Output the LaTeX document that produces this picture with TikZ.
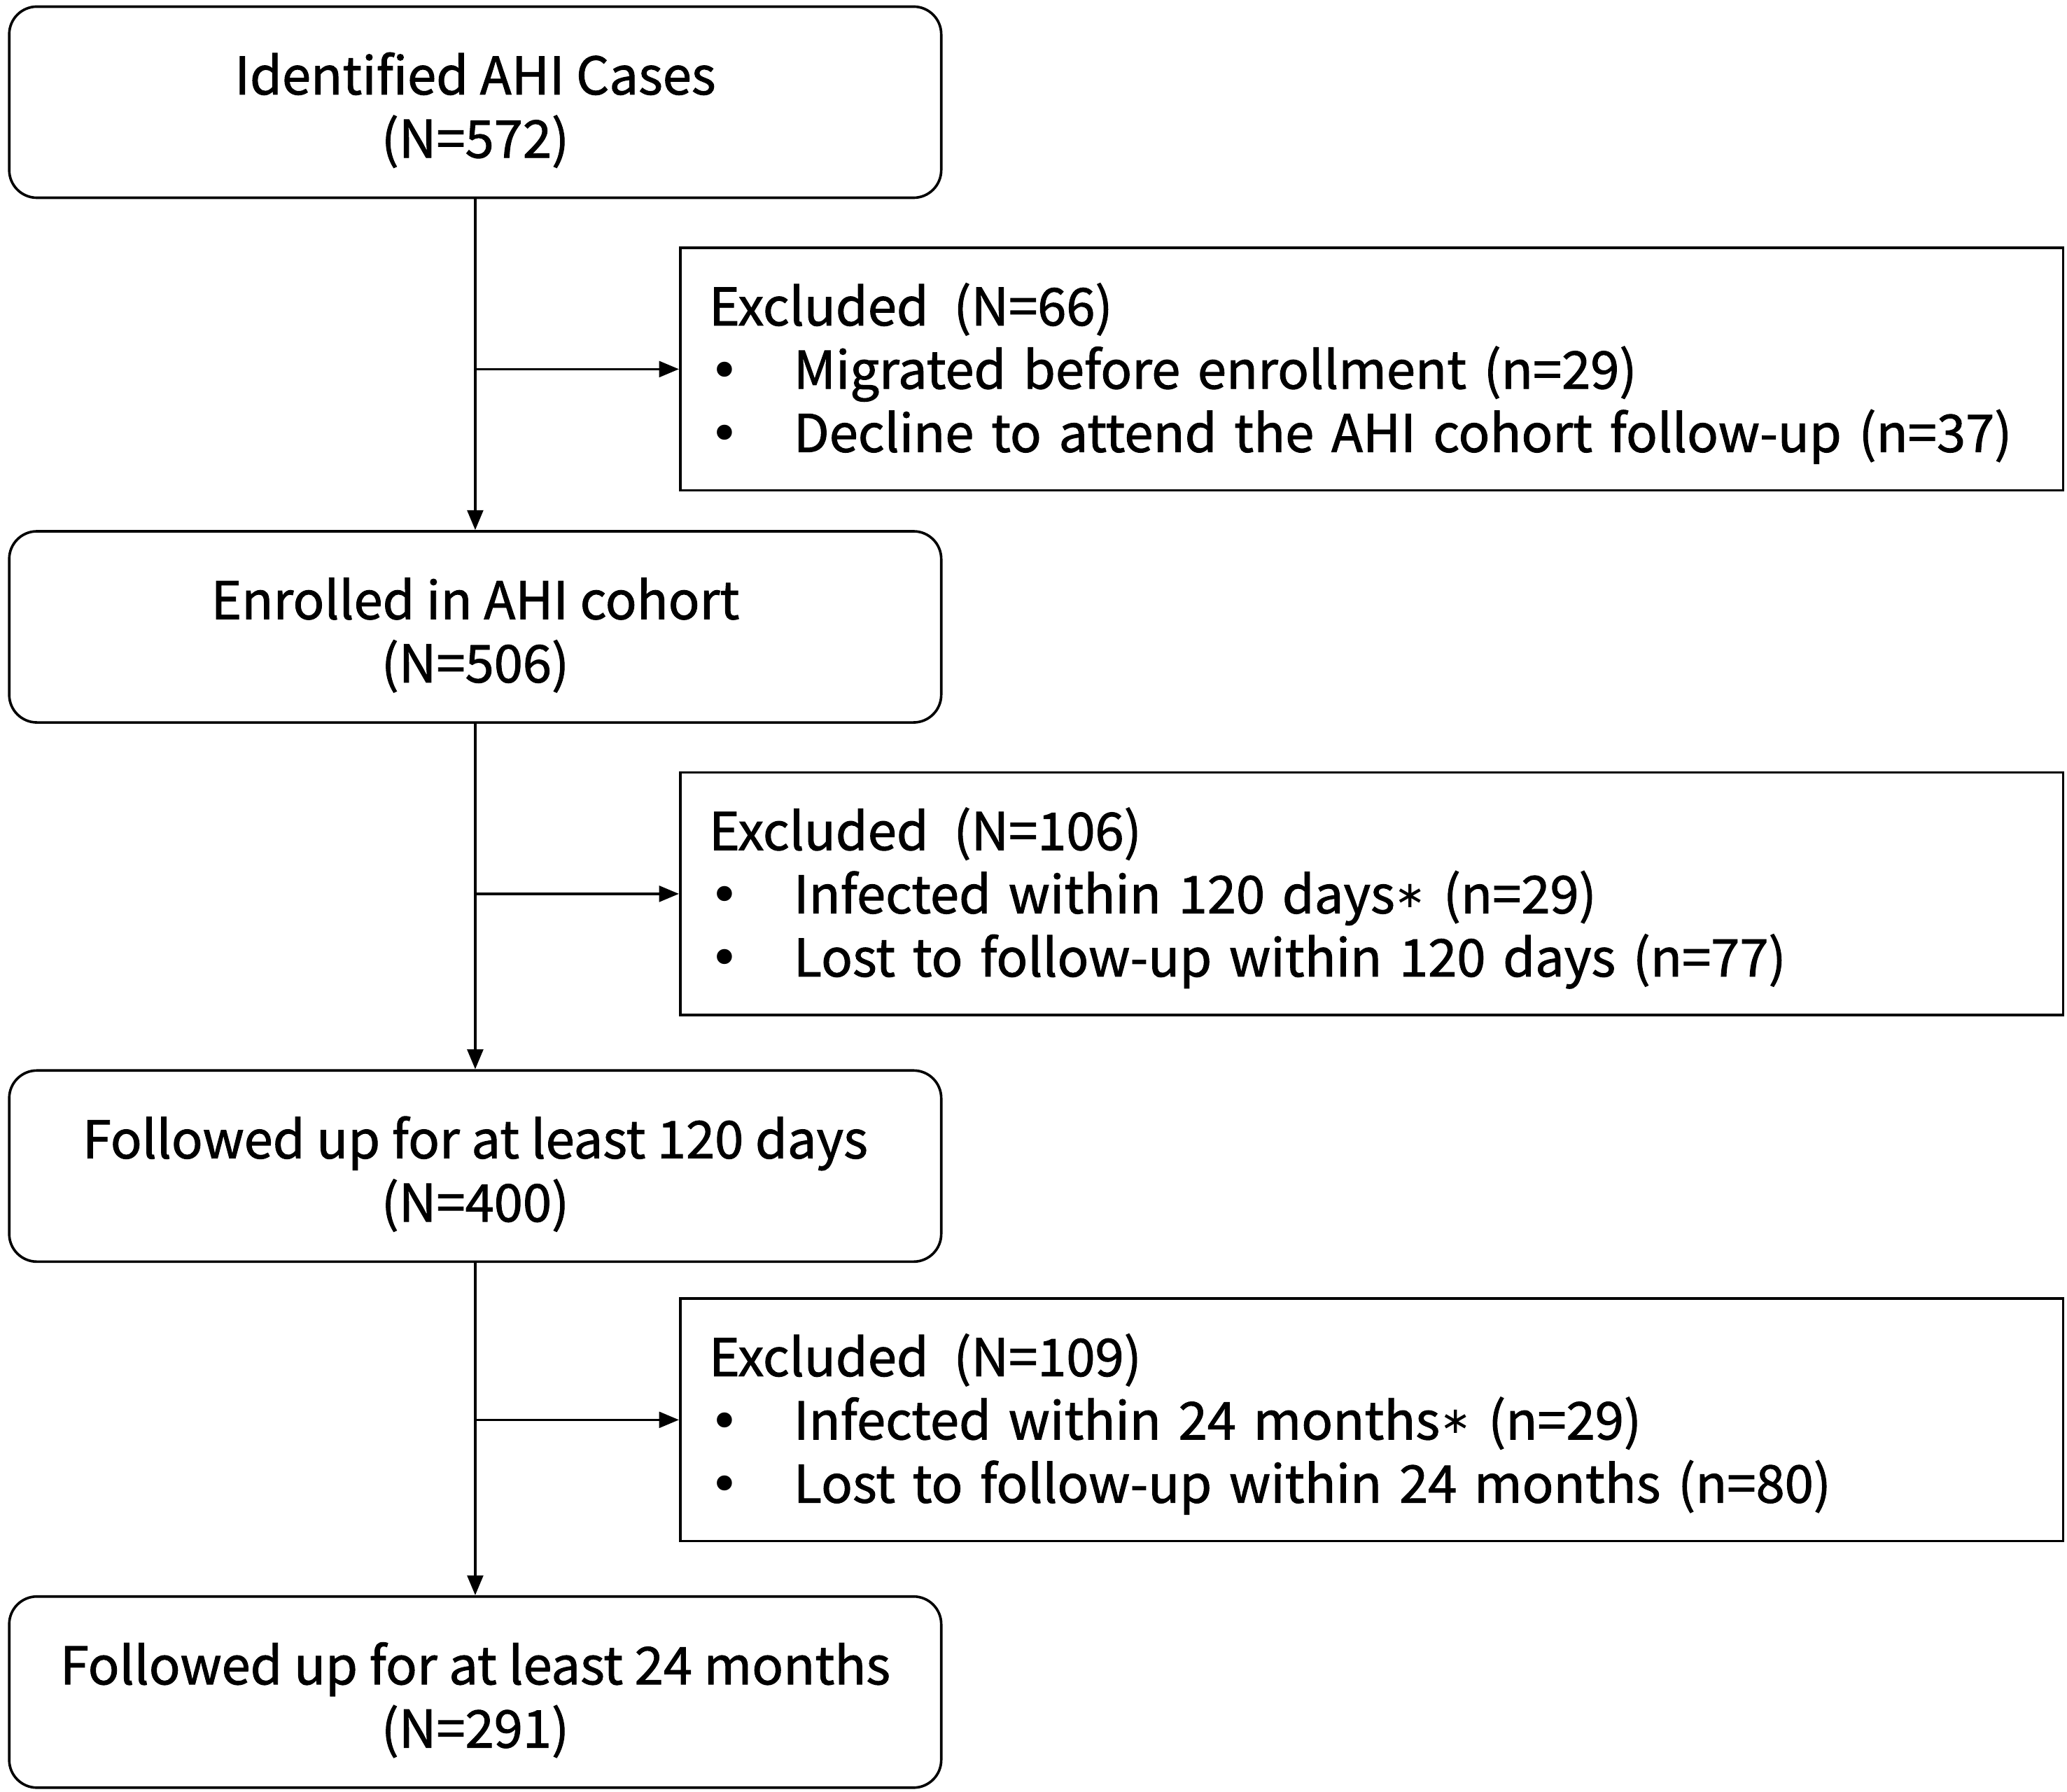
\documentclass[tikz,border=0pt]{standalone}
\usepackage{fontspec}
\setmainfont{Noto Sans CJK SC}[FakeBold=1.3]
\newfontfamily\dotfont{DejaVu Sans}
\usepackage{tikz}
\usetikzlibrary{arrows.meta,positioning}

\newcommand{\bitem}[1]{\makebox[1.28cm][l]{{\dotfont •}}#1}
\newcommand{\astx}{\raisebox{2.5pt}{\dotfont\fontsize{16}{16}\selectfont ∗}}
\newcommand{\excl}[1]{Excluded\hspace{0.38cm}(N=#1)}
\newcommand{\stage}[2]{\rule{0pt}{25pt}#1\\(N=#2)}

\begin{document}
\begin{tikzpicture}[
  stagebox/.style={draw,line width=1.1pt,rounded corners=0.42cm,minimum width=14.14cm,minimum height=2.9cm,align=center},
  exclbox/.style={draw,line width=1.1pt,minimum height=3.68cm,text width=20.1cm,inner xsep=0.44cm,align=left,
    execute at begin node={\rule{0pt}{22pt}}},
  flow/.style={line width=1.1pt,-{Triangle[length=0.3cm,width=0.24cm]}},
  font=\fontsize{22.4}{27.3}\selectfont
]
\useasboundingbox (0,0) rectangle (31.36,-27.18);
\node[stagebox] (ident) at (7.21,-1.55) {\stage{Identified AHI Cases}{572}};
\node[stagebox] (enrol) at (7.21,-9.51) {\stage{Enrolled in AHI cohort}{506}};
\node[stagebox] (fu120) at (7.21,-17.69) {\stage{Followed up for at least 120 days}{400}};
\node[stagebox] (fu24) at (7.21,-25.67) {\stage{Followed up for at least 24 months}{291}};
\node[exclbox] (exclA) at (20.81,-5.60) {\excl{66}\\
  \bitem{Migrated before enrollment (n=29)}\\
  \bitem{Decline to attend the AHI cohort follow-up (n=37)}};
\node[exclbox] (exclB) at (20.81,-13.56) {\excl{106}\\
  \bitem{Infected within 120 days\astx{} (n=29)}\\
  \bitem{Lost to follow-up within 120 days (n=77)}};
\node[exclbox] (exclC) at (20.81,-21.54) {\excl{109}\\
  \bitem{Infected within 24 months\astx{} (n=29)}\\
  \bitem{Lost to follow-up within 24 months (n=80)}};
% main line
\draw[flow] (ident) -- (enrol);
\draw[flow] (enrol) -- (fu120);
\draw[flow] (fu120) -- (fu24);
% side branches
\coordinate (brA) at (ident.south |- exclA.west);
\coordinate (brB) at (enrol.south |- exclB.west);
\coordinate (brC) at (fu120.south |- exclC.west);
\draw[flow] (brA) -- (exclA);
\draw[flow] (brB) -- (exclB);
\draw[flow] (brC) -- (exclC);
\end{tikzpicture}
\end{document}
